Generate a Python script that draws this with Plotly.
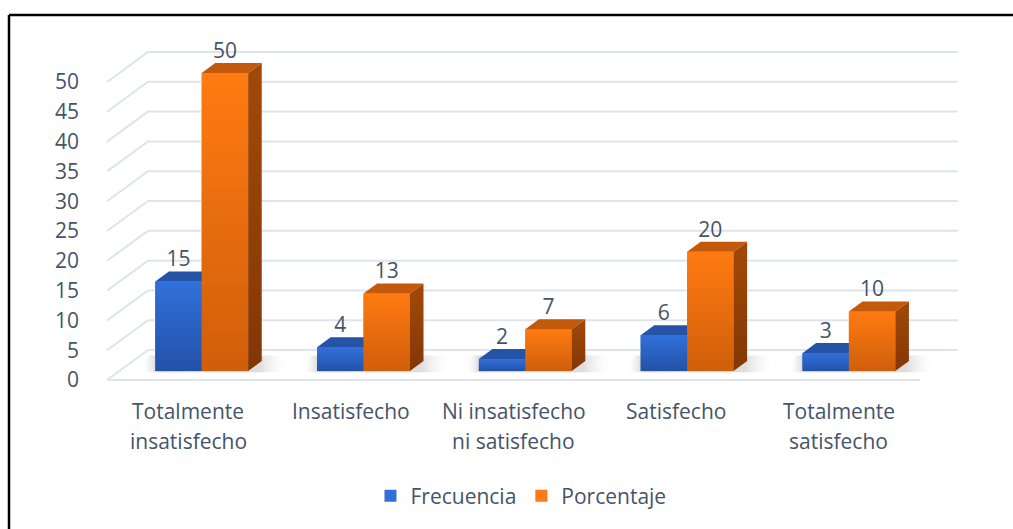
import plotly.graph_objects as go

# ---------------- data ----------------
categories = ["Totalmente<br>insatisfecho", "Insatisfecho", "Ni insatisfecho<br>ni satisfecho",
              "Satisfecho", "Totalmente<br>satisfecho"]
frecuencia = [15, 4, 2, 6, 3]
porcentaje = [50, 13, 7, 20, 10]
series_names = ["Frecuencia", "Porcentaje"]
y_ticks = [0, 5, 10, 15, 20, 25, 30, 35, 40, 45, 50]

# ---------------- geometry (axis units) ----------------
BAR_W = 0.287          # width of each bar front face
DEPTH_X = 0.084        # bar depth, horizontal shift
DEPTH_Y = 1.68         # bar depth, vertical shift
FLOOR_LEFT = -0.585    # front-left corner of the floor
FLOOR_RIGHT = 4.44     # front-right corner of the floor
WALL_DX = 0.253        # floor depth (x)
WALL_DY = 5.03         # floor depth (y)
FRONT_DY = -1.51       # front edge offset below bar base
WALL_RIGHT = 4.674     # right end of back-wall gridlines
LABEL_Y1 = -6.71       # first line of category labels
LABEL_Y2 = -11.74      # second line of category labels
Y_RANGE = [-3.52, 58.05]
X_RANGE = [-0.6903, 4.934]

TEXT = "#44546A"
FONT = "Open Sans"
FS = 21

styles = {
    "Frecuencia": dict(front_top="#3170DB", front_bot="#2352A8", top="#2553A6",
                       side_top="#1F4893", side_bot="#193C7C", offset=-BAR_W),
    "Porcentaje": dict(front_top="#FF7B12", front_bot="#D05E0A", top="#C3590A",
                       side_top="#A34908", side_bot="#833705", offset=0.0),
}
values = {"Frecuencia": frecuencia, "Porcentaje": porcentaje}

fig = go.Figure()

# ---------------- walls / gridlines ----------------
gx, gy = [], []
for t in y_ticks:
    gx += [FLOOR_LEFT, FLOOR_LEFT + WALL_DX, WALL_RIGHT, None]
    gy += [t + FRONT_DY, t + FRONT_DY + WALL_DY, t + FRONT_DY + WALL_DY, None]
gx += [FLOOR_LEFT, FLOOR_RIGHT, None]
gy += [FRONT_DY, FRONT_DY, None]
fig.add_trace(go.Scatter(x=gx, y=gy, mode="lines", line=dict(color="#DFE3EA", width=2),
                         hoverinfo="skip", showlegend=False))

# ---------------- bars (legend + base) ----------------
idx = list(range(len(categories)))
for name in series_names:
    st = styles[name]
    fig.add_trace(go.Bar(x=idx, y=values[name], name=name, width=BAR_W, offset=st["offset"],
                         marker=dict(color=st["front_top"], line=dict(width=0)),
                         hoverinfo="skip"))

# ---------------- soft floor shadows ----------------
for i in idx:
    xl = i - BAR_W - 0.09
    xr = i + BAR_W + DEPTH_X + 0.14
    fig.add_trace(go.Scatter(
        x=[xl, xr, xr + 0.03, xl + 0.05, xl], y=[-0.2, -0.2, 2.6, 2.6, -0.2],
        mode="lines", fill="toself", line=dict(width=0),
        fillgradient=dict(type="horizontal",
                          colorscale=[[0, "rgba(255,255,255,0)"], [0.12, "rgba(140,140,140,0.45)"],
                                      [0.8, "rgba(160,160,160,0.35)"], [1, "rgba(255,255,255,0)"]]),
        hoverinfo="skip", showlegend=False))

# ---------------- 3D faces ----------------
for name in series_names:
    st = styles[name]
    for i, v in enumerate(values[name]):
        x0 = i + st["offset"]
        x1 = x0 + BAR_W
        # front face
        fig.add_trace(go.Scatter(
            x=[x0, x1, x1, x0, x0], y=[0, 0, v, v, 0], mode="lines", fill="toself",
            line=dict(width=0), fillgradient=dict(type="vertical",
                                                  colorscale=[[0, st["front_bot"]], [1, st["front_top"]]]),
            hoverinfo="skip", showlegend=False))
        # top face
        fig.add_trace(go.Scatter(
            x=[x0, x0 + DEPTH_X, x1 + DEPTH_X, x1, x0],
            y=[v, v + DEPTH_Y, v + DEPTH_Y, v, v], mode="lines", fill="toself",
            line=dict(width=0), fillcolor=st["top"], hoverinfo="skip", showlegend=False))
        # side face
        fig.add_trace(go.Scatter(
            x=[x1, x1 + DEPTH_X, x1 + DEPTH_X, x1, x1],
            y=[0, DEPTH_Y, v + DEPTH_Y, v, 0], mode="lines", fill="toself",
            line=dict(width=0), fillgradient=dict(type="vertical",
                                                  colorscale=[[0, st["side_bot"]], [1, st["side_top"]]]),
            hoverinfo="skip", showlegend=False))

# ---------------- data labels ----------------
for name in series_names:
    st = styles[name]
    fig.add_trace(go.Scatter(
        x=[i + st["offset"] + BAR_W / 2 for i in idx],
        y=[v + DEPTH_Y for v in values[name]],
        mode="text", text=[str(v) for v in values[name]], textposition="top center",
        textfont=dict(family=FONT, size=FS, color=TEXT),
        hoverinfo="skip", showlegend=False, cliponaxis=False))

# ---------------- category labels ----------------
slot = (FLOOR_RIGHT - FLOOR_LEFT) / len(categories)


def to_paper_y(v):
    return (v - Y_RANGE[0]) / (Y_RANGE[1] - Y_RANGE[0])


annotations = []
for i, cat in enumerate(categories):
    for k, line in enumerate(cat.split("<br>")):
        annotations.append(dict(x=FLOOR_LEFT + (i + 0.5) * slot,
                                y=to_paper_y([LABEL_Y1, LABEL_Y2][k]),
                                xref="x", yref="paper", text=line, showarrow=False,
                                xanchor="center", yanchor="middle",
                                font=dict(family=FONT, size=FS, color=TEXT)))

# ---------------- layout ----------------
fig.update_layout(
    width=1013, height=529,
    margin=dict(l=90, r=13, t=25, b=137),
    paper_bgcolor="white", plot_bgcolor="white",
    barmode="overlay",
    font=dict(family=FONT, size=FS, color=TEXT),
    xaxis=dict(range=X_RANGE, showticklabels=False, showgrid=False, zeroline=False,
               showline=False, ticks="", fixedrange=True),
    yaxis=dict(range=Y_RANGE, tickvals=[t + FRONT_DY for t in y_ticks],
               ticktext=[str(t) for t in y_ticks], showgrid=False, zeroline=False,
               showline=False, ticks="", ticklabelstandoff=10,
               tickfont=dict(family=FONT, size=FS, color=TEXT), fixedrange=True),
    legend=dict(orientation="h", x=0.4736, xanchor="center", y=-0.2834, yanchor="middle",
                font=dict(family=FONT, size=FS, color=TEXT), bgcolor="rgba(0,0,0,0)"),
    annotations=annotations,
    shapes=[
        dict(type="line", xref="paper", yref="paper", x0=-0.089, x1=-0.089, y0=-0.6, y1=1.0272,
             line=dict(color="black", width=2.5)),
        dict(type="line", xref="paper", yref="paper", x0=-0.089, x1=1.2, y0=1.0272, y1=1.0272,
             line=dict(color="black", width=2.5)),
    ],
)

fig.write_html("out.html", post_script="document.body.style.margin='0';",
               config={"displayModeBar": False})
